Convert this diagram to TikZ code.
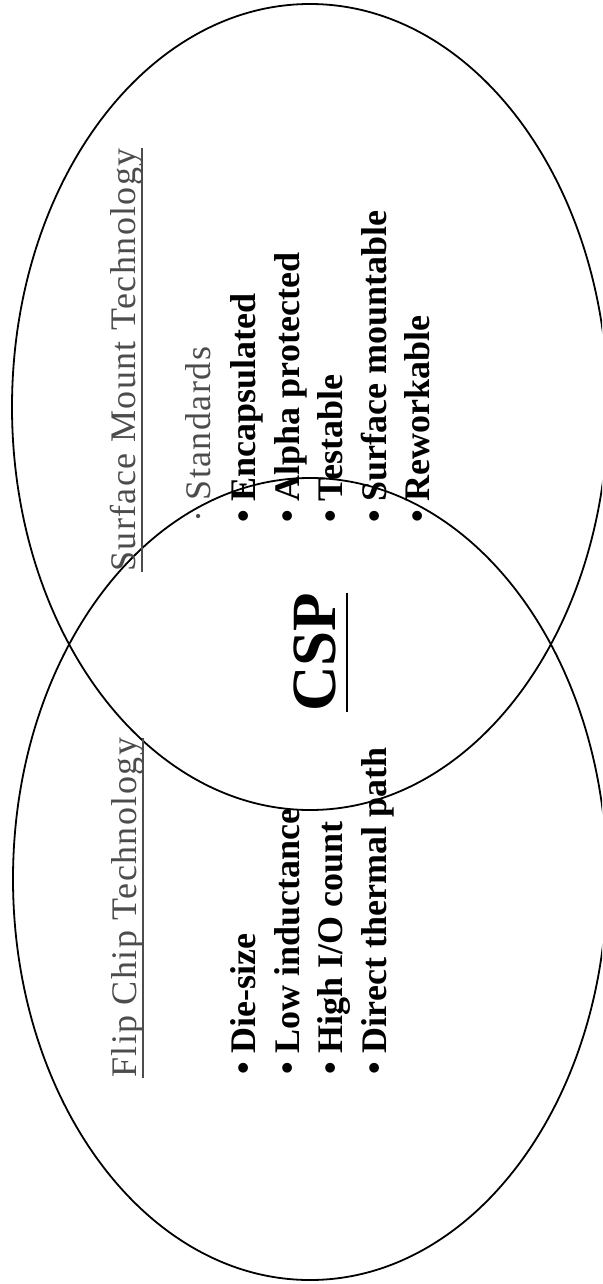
\documentclass[tikz,border=0pt]{standalone}
\usepackage{fontspec}
\setmainfont{Liberation Serif}
\newfontfamily\greyfont[LetterSpace=4]{Liberation Serif}
\begin{document}
\begin{tikzpicture}[x=1pt,y=-1pt,
  ring/.style={draw=black, line width=1.8pt},
  head/.style={font=\greyfont\fontsize{36}{40}\selectfont, text=black!70, rotate=90, anchor=base west, inner sep=0pt},
  item/.style={font=\bfseries\fontsize{36}{40}\selectfont, rotate=90, anchor=base west, inner sep=0pt},
  uline/.style={draw=black!70, line width=1.2pt}]
\useasboundingbox (0,0) rectangle (602,1284);
\begin{scope}
\clip (0,0) rectangle (602,1284);
\draw[ring] (310,407) ellipse [x radius=298pt, y radius=403pt];
\draw[ring] (310,879) ellipse [x radius=297pt, y radius=401pt];
\end{scope}
% headings
\node[head] (smt) at (135,572) {Surface Mount Technology};
\node[head] (fct) at (136,1078) {Flip Chip Technology};
\node[head] (std) at (210,523) {·\ Standards};
\draw[uline] ([xshift=7pt]smt.base west) -- ([xshift=7pt]smt.base east);
\draw[uline] ([xshift=7pt]fct.base west) -- ([xshift=7pt]fct.base east);
% upper list
\node[item] (u1) at (255,523) {•\ Encapsulated};
\node[item] (u2) at (299,523) {•\ Alpha protected};
\node[item] (u3) at (342,523) {•\ Testable};
\node[item] (u4) at (386,523) {•\ Surface mountable};
\node[item] (u5) at (429,523) {•\ Reworkable};
% lower list
\node[item] (l1) at (255,1075) {•\ Die-size};
\node[item] (l2) at (299,1075) {•\ Low inductance};
\node[item] (l3) at (342,1075) {•\ High I/O count};
\node[item] (l4) at (386,1075) {•\ Direct thermal path};
% CSP
\node[font=\bfseries\fontsize{63}{70}\selectfont, rotate=90, anchor=base west, inner sep=0pt] (csp) at (335,712) {CSP};
\draw[line width=2pt] ([xshift=12pt]csp.base west) -- ([xshift=12pt]csp.base east);
\end{tikzpicture}
\end{document}
